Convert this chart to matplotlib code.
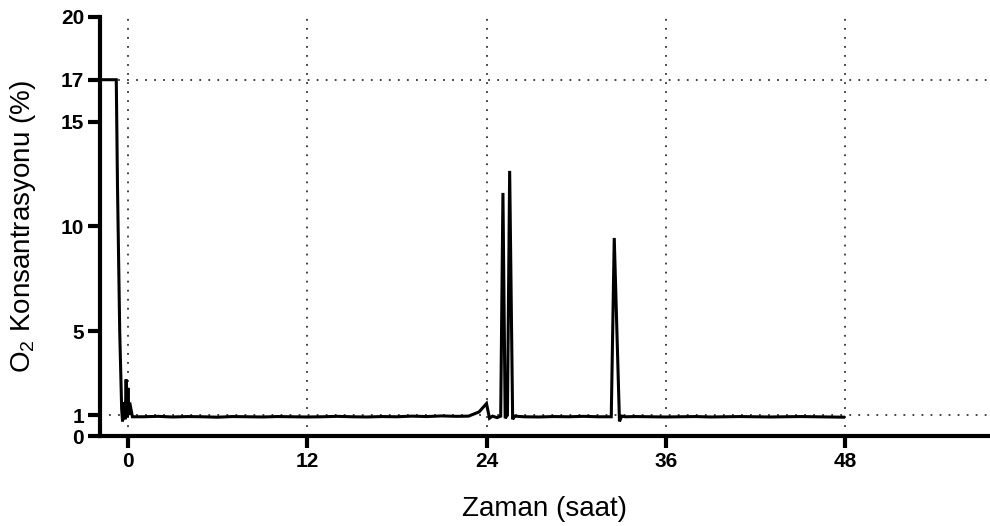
import matplotlib
matplotlib.use("Agg")
import matplotlib.pyplot as plt

plt.rcParams['font.family'] = ['Liberation Sans', 'DejaVu Sans']
plt.rcParams['mathtext.fontset'] = 'custom'
plt.rcParams['mathtext.rm'] = 'Liberation Sans'
plt.rcParams['mathtext.it'] = 'Liberation Sans:italic'

# ---- data (hours, O2 %) ----
time_h = [-1.87, -0.78, -0.70, -0.55, -0.42, -0.36, -0.25, -0.18, -0.12, -0.06, 0.0, 0.06, 0.12, 0.3,
          1.0, 2.0, 3.0, 4.0, 5.0, 6.0, 7.0, 8.0, 9.0, 10.0, 11.0, 12.0, 13.0, 14.0, 15.0, 16.0,
          17.0, 18.0, 19.0, 20.0, 21.0, 22.0, 22.8, 23.5, 24.0, 24.2, 24.4, 24.7, 24.95, 25.1,
          25.25, 25.4, 25.55, 25.75, 25.9, 26.5, 27.5, 28.5, 29.5, 30.5, 31.5, 32.35, 32.55, 32.9,
          33.05, 33.3, 34.0, 35.0, 36.0, 37.0, 38.0, 39.0, 40.0, 41.0, 42.0, 43.0, 44.0, 45.0,
          46.0, 47.0, 47.9]
o2_pct = [17.0, 17.0, 12.0, 5.0, 1.3, 0.7, 1.6, 0.8, 2.7, 0.9, 2.3, 1.0, 1.6, 0.92,
          0.92, 0.94, 0.91, 0.93, 0.92, 0.90, 0.93, 0.92, 0.91, 0.93, 0.92, 0.91, 0.92, 0.94,
          0.92, 0.91, 0.93, 0.92, 0.95, 0.93, 0.96, 0.94, 0.95, 1.15, 1.55, 0.85, 0.95, 0.88,
          0.95, 11.6, 0.85, 1.0, 12.65, 0.8, 0.95, 0.92, 0.91, 0.93, 0.92, 0.94, 0.92, 0.92,
          9.45, 0.7, 0.95, 0.92, 0.93, 0.92, 0.91, 0.92, 0.93, 0.91, 0.92, 0.93, 0.92, 0.91,
          0.92, 0.93, 0.92, 0.91, 0.90]

x_ticks = [0, 12, 24, 36, 48]
y_ticks = [0, 1, 5, 10, 15, 17, 20]
h_refs = [1, 17]

fig = plt.figure(figsize=(9.9, 5.26), dpi=100)
ax = fig.add_axes([0.101, 0.171, 0.899, 0.797])

dot = (0, (1, 4))
for xv in x_ticks:
    ax.axvline(xv, color='#333333', lw=1.3, ls=dot, zorder=1)
for yv in h_refs:
    ax.axhline(yv, color='#333333', lw=1.3, ls=dot, zorder=1)

ax.plot(time_h, o2_pct, color='black', lw=2.2, zorder=3, solid_joinstyle='miter')

ax.set_xlim(-1.87, 57.7)
ax.set_ylim(0, 20)
ax.set_xticks(x_ticks)
ax.set_yticks(y_ticks)

for s in ['top', 'right']:
    ax.spines[s].set_visible(False)
for s in ['left', 'bottom']:
    ax.spines[s].set_linewidth(3)
ax.tick_params(axis='both', length=8.5, width=3, direction='out', labelsize=15, pad=3)
for lab in ax.get_xticklabels() + ax.get_yticklabels():
    lab.set_fontweight('bold')

ax.set_xlabel('Zaman (saat)', fontsize=20, labelpad=18)
ax.set_ylabel('O$_2$ Konsantrasyonu (%)', fontsize=20, labelpad=16)

fig.savefig('out.png', dpi=100)
